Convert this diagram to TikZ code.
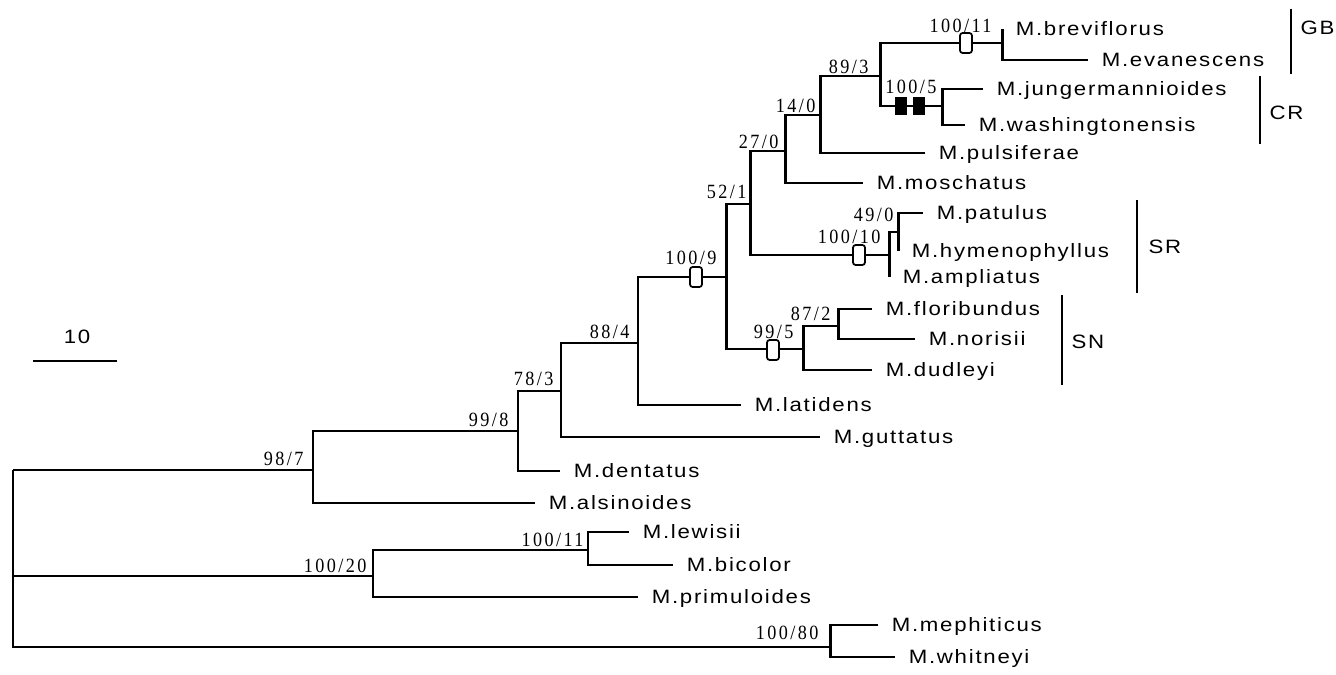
\documentclass[tikz,border=0pt]{standalone}
\usepackage{fontspec}
\setmainfont{Liberation Sans}[FakeStretch=1.15,LetterSpace=9]
\newfontfamily\bsfont{Liberation Serif}[FakeStretch=0.9,LetterSpace=12]
\usetikzlibrary{positioning}

\begin{document}
\begin{tikzpicture}[x=0.02cm, y=-0.02cm, line width=1.7pt,
    taxon/.style={font=\fontsize{11}{13}\selectfont, inner sep=0pt, text height=7.9pt, text depth=0pt},
    clade/.style={taxon, anchor=west},
    bs/.style={font=\bsfont\fontsize{11.5}{13}\selectfont, inner sep=0pt, anchor=base east},
    openbox/.style={draw, fill=white, rounded corners=1.5pt, line width=1pt, inner sep=0pt, minimum width=0.24cm, minimum height=0.4cm},
    solidbox/.style={fill=black, inner sep=0pt, minimum width=0.24cm, minimum height=0.36cm},
    cladebar/.style={line width=1.1pt}]
  % Mimulus tree, bootstrap / decay values on the branches
  \useasboundingbox (0,0) rectangle (1336,675);

  \coordinate (r) at (13,470);
  \coordinate (n987) at (313,470);
  \coordinate (n998) at (518,431);
  \coordinate (n783) at (561,391);
  \coordinate (n884) at (638,343);
  \coordinate (n1009) at (726,277);
  \coordinate (n521) at (750,204);
  \coordinate (n270) at (785,151);
  \coordinate (n140) at (820,115);
  \coordinate (n893) at (880,76);
  \coordinate (nGB) at (1002,43);
  \coordinate (nCR) at (942,106);
  \coordinate (nSR) at (889,255);
  \coordinate (n490) at (898,232);
  \coordinate (n995) at (803,349);
  \coordinate (n872) at (838,326);
  \coordinate (n10020) at (373,576);
  \coordinate (n10011) at (588,550);
  \coordinate (n10080) at (830,647);

  \coordinate (tBre) at (1002,29);
  \coordinate (tEva) at (1088,60);
  \coordinate (tJun) at (983,89);
  \coordinate (tWas) at (965,125);
  \coordinate (tPul) at (925,153);
  \coordinate (tMos) at (863,183);
  \coordinate (tPat) at (923,213);
  \coordinate (tHym) at (898,251);
  \coordinate (tAmp) at (889,277);
  \coordinate (tFlo) at (872,309);
  \coordinate (tNor) at (915,339);
  \coordinate (tDud) at (872,370);
  \coordinate (tLat) at (741,405);
  \coordinate (tGut) at (820,437);
  \coordinate (tDen) at (560,471);
  \coordinate (tAls) at (535,503);
  \coordinate (tLew) at (629,532);
  \coordinate (tBic) at (673,565);
  \coordinate (tPri) at (638,597);
  \coordinate (tMep) at (878,625);
  \coordinate (tWhi) at (895,657);

  \foreach \p/\c in {r/n987, r/n10020, r/n10080, n987/n998, n987/tAls,
      n998/n783, n998/tDen, n783/n884, n783/tGut, n884/n1009, n884/tLat,
      n1009/n521, n1009/n995, n521/n270, n521/nSR, n270/n140, n270/tMos,
      n140/n893, n140/tPul, n893/nGB, n893/nCR, nGB/tBre, nGB/tEva,
      nCR/tJun, nCR/tWas, nSR/n490, nSR/tAmp, n490/tPat, n490/tHym,
      n995/n872, n995/tDud, n872/tFlo, n872/tNor, n10020/n10011,
      n10020/tPri, n10011/tLew, n10011/tBic, n10080/tMep, n10080/tWhi}
    \draw (\p) |- (\c);

  \node[openbox] (oGB) at (966,43) {};
  \node[solidbox] (sCR1) at (901,106) {};
  \node[solidbox] (sCR2) at (919,106) {};
  \node[openbox] (oSR) at (859,255) {};
  \node[openbox] (o1009) at (696,277) {};
  \node[openbox] (o995) at (773,350) {};

  \node[taxon, right=7pt of tBre] (Bre) {M.breviflorus};
  \node[taxon, right=7pt of tEva] (Eva) {M.evanescens};
  \node[taxon, right=7pt of tJun] (Jun) {M.jungermannioides};
  \node[taxon, right=7pt of tWas] (Was) {M.washingtonensis};
  \node[taxon, right=7pt of tPul] (Pul) {M.pulsiferae};
  \node[taxon, right=7pt of tMos] (Mos) {M.moschatus};
  \node[taxon, right=7pt of tPat] (Pat) {M.patulus};
  \node[taxon, right=7pt of tHym] (Hym) {M.hymenophyllus};
  \node[taxon, right=7pt of tAmp] (Amp) {M.ampliatus};
  \node[taxon, right=7pt of tFlo] (Flo) {M.floribundus};
  \node[taxon, right=7pt of tNor] (Nor) {M.norisii};
  \node[taxon, right=7pt of tDud] (Dud) {M.dudleyi};
  \node[taxon, right=7pt of tLat] (Lat) {M.latidens};
  \node[taxon, right=7pt of tGut] (Gut) {M.guttatus};
  \node[taxon, right=7pt of tDen] (Den) {M.dentatus};
  \node[taxon, right=7pt of tAls] (Als) {M.alsinoides};
  \node[taxon, right=7pt of tLew] (Lew) {M.lewisii};
  \node[taxon, right=7pt of tBic] (Bic) {M.bicolor};
  \node[taxon, right=7pt of tPri] (Pri) {M.primuloides};
  \node[taxon, right=7pt of tMep] (Mep) {M.mephiticus};
  \node[taxon, right=7pt of tWhi] (Whi) {M.whitneyi};

  \node[bs] (b987) at (305,466) {98/7};
  \node[bs] (b998) at (510,427) {99/8};
  \node[bs] (b783) at (555,386) {78/3};
  \node[bs] (b884) at (631,339) {88/4};
  \node[bs] (b1009) at (718,265) {100/9};
  \node[bs] (b521) at (748,199) {52/1};
  \node[bs] (b270) at (780,149) {27/0};
  \node[bs] (b140) at (817,113) {14/0};
  \node[bs] (b893) at (870,74) {89/3};
  \node[bs] (bGB) at (993,33) {100/11};
  \node[bs] (bCR) at (938,94) {100/5};
  \node[bs] (bSR) at (882,244) {100/10};
  \node[bs] (b490) at (895,222) {49/0};
  \node[bs] (b995) at (795,339) {99/5};
  \node[bs] (b872) at (832,321) {87/2};
  \node[bs] (b10020) at (368,572) {100/20};
  \node[bs] (b10011) at (585,546) {100/11};
  \node[bs] (b10080) at (820,639) {100/80};

  \coordinate (gbT) at (1291,9);
  \coordinate (gbB) at (1291,74);
  \coordinate (crT) at (1260,76);
  \coordinate (crB) at (1260,144);
  \coordinate (srT) at (1137,200);
  \coordinate (srB) at (1137,293);
  \coordinate (snT) at (1062,295);
  \coordinate (snB) at (1062,385);
  \draw[cladebar] (gbT) -- (gbB);
  \draw[cladebar] (crT) -- (crB);
  \draw[cladebar] (srT) -- (srB);
  \draw[cladebar] (snT) -- (snB);
  \node[clade] (GB) at (1299,28) {GB};
  \node[clade] (CR) at (1268,113) {CR};
  \node[clade] (SR) at (1147,247) {SR};
  \node[clade] (SN) at (1070,342) {SN};

  \coordinate (sbL) at (33,361);
  \coordinate (sbR) at (117,361);
  \draw (sbL) -- (sbR);
  \node[taxon] (sbLab) at (77,337) {10};
\end{tikzpicture}
\end{document}
